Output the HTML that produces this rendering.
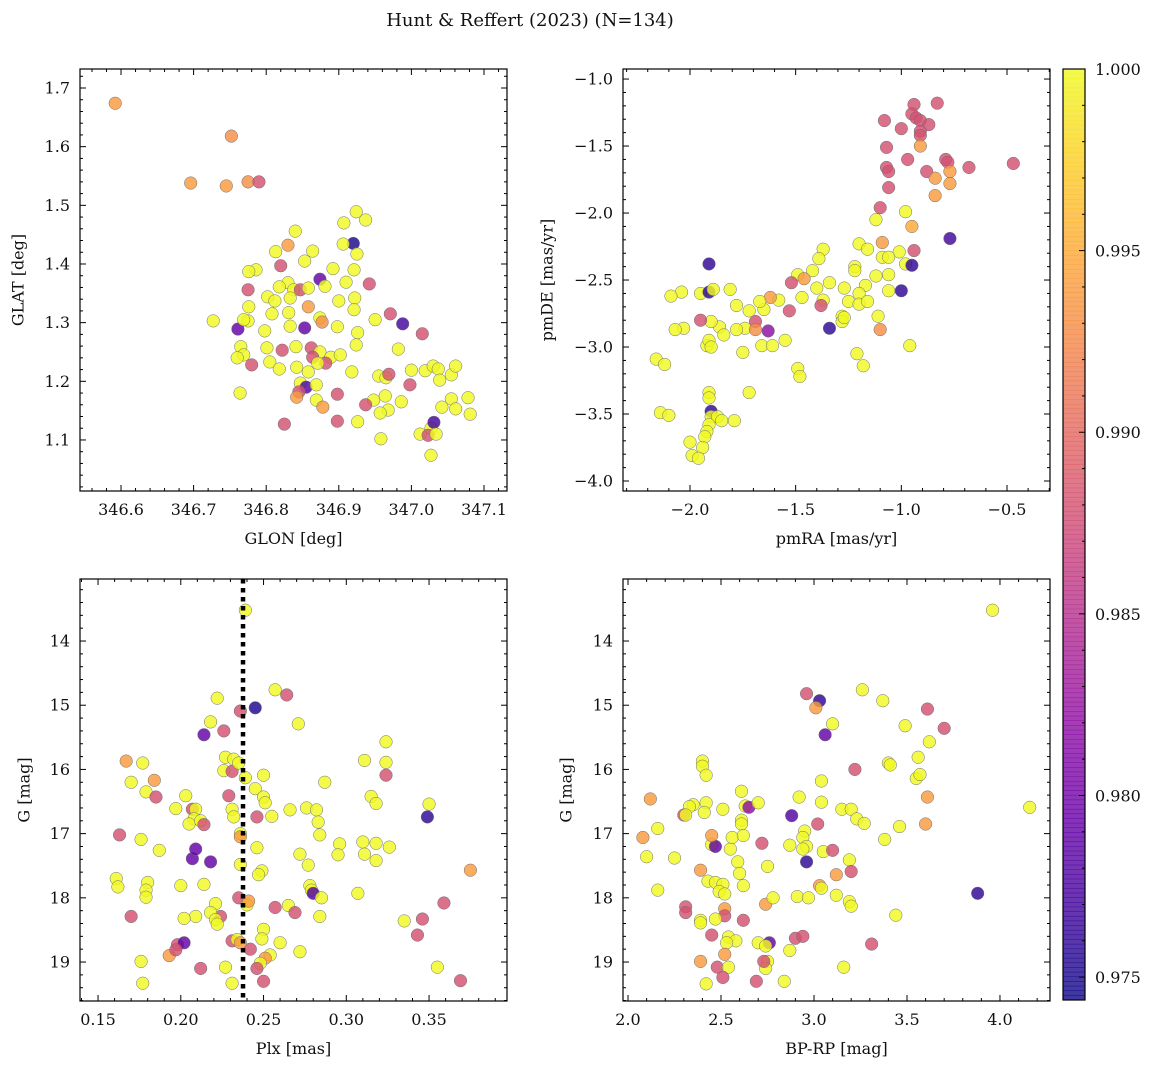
<!DOCTYPE html>
<html><head><meta charset="utf-8"><style>
html,body{margin:0;padding:0;background:#fff;}
svg text{font-family:"DejaVu Serif","Liberation Serif",serif;fill:#111;}
</style></head><body>
<svg id="fig" width="1161" height="1068" xmlns="http://www.w3.org/2000/svg">
<text x="530" y="26" font-size="18" text-anchor="middle">Hunt &amp; Reffert (2023) (N=134)</text>
</svg>
<script>
// ---- Panel 1: GLON / GLAT ----
const p1x=[346.592,346.752,346.696,346.745,346.775,346.790,346.840,346.830,346.920,346.924,346.937,346.907,346.813,346.820,346.786,346.776,346.864,346.892,346.906,346.853,346.874,346.925,346.921,346.910,346.830,346.838,346.818,346.775,346.776,346.802,346.812,346.833,346.847,346.858,346.881,346.942,346.922,346.900,346.921,346.858,346.831,346.808,346.874,346.950,346.898,346.877,346.853,346.833,346.761,346.798,346.775,346.727,346.769,346.971,346.988,347.015,346.926,346.924,346.765,346.801,346.822,346.841,346.862,346.874,346.889,346.902,346.864,346.882,346.871,346.982,346.780,346.805,346.842,346.818,346.769,346.760,346.858,346.918,346.955,346.965,346.969,347.000,347.019,347.030,347.037,347.055,347.061,347.039,346.998,346.847,346.855,346.869,346.845,346.842,346.869,346.878,346.948,346.964,346.986,346.968,346.937,346.898,347.055,347.042,347.061,347.078,347.081,346.926,346.957,346.898,346.958,346.825,347.012,347.027,347.023,347.031,347.034,347.027,346.764];
const p1y=[1.674,1.618,1.538,1.533,1.540,1.540,1.456,1.432,1.435,1.489,1.475,1.470,1.421,1.397,1.390,1.387,1.422,1.392,1.434,1.405,1.374,1.417,1.390,1.369,1.368,1.356,1.361,1.356,1.327,1.344,1.337,1.342,1.356,1.359,1.362,1.366,1.342,1.337,1.322,1.327,1.317,1.315,1.308,1.305,1.293,1.301,1.291,1.294,1.289,1.286,1.303,1.303,1.305,1.315,1.298,1.281,1.283,1.262,1.259,1.257,1.253,1.259,1.257,1.250,1.241,1.245,1.241,1.231,1.231,1.255,1.228,1.233,1.224,1.221,1.245,1.240,1.216,1.216,1.209,1.206,1.212,1.219,1.218,1.226,1.221,1.211,1.226,1.202,1.194,1.197,1.190,1.194,1.182,1.173,1.168,1.156,1.168,1.175,1.165,1.151,1.160,1.178,1.170,1.156,1.153,1.172,1.144,1.131,1.146,1.132,1.102,1.127,1.110,1.120,1.108,1.130,1.110,1.074,1.180];
const p1c=[0.994,0.993,0.994,0.994,0.993,0.988,1,0.994,0.975,1,1,1,1,0.988,1,1,1,1,1,1,0.979,1,1,1,1,1,1,0.988,1,1,1,1,0.988,1,1,0.988,1,1,1,0.994,1,1,1,1,1,0.993,0.979,1,0.979,1,1,1,1,0.988,0.977,0.988,1,1,1,1,0.988,1,0.988,1,1,1,0.988,0.988,1,1,0.988,1,1,1,1,1,1,1,1,1,0.988,1,1,1,1,1,1,1,0.988,1,0.978,1,0.988,0.994,1,0.994,1,1,1,1,0.988,0.988,1,1,1,1,1,1,1,0.988,1,0.988,1,1,0.988,0.977,1,1,1];
// ---- Panel 2: pmRA / pmDE ----
const p2x=[-0.94,-0.95,-0.93,-0.91,-0.83,-1.00,-0.87,-0.91,-0.91,-1.08,-1.07,-0.97,-0.79,-0.78,-1.07,-1.06,-0.47,-0.68,-1.06,-0.88,-0.84,-0.77,-0.77,-0.84,-0.91,-1.10,-0.98,-1.12,-0.95,-1.09,-1.20,-1.16,-1.01,-0.94,-0.77,-1.09,-1.06,-0.98,-0.95,-1.22,-1.22,-1.37,-1.39,-1.42,-1.49,-1.46,-1.34,-1.40,-1.27,-1.17,-1.12,-1.06,-1.20,-1.06,-1.47,-1.37,-1.25,-1.20,-1.16,-1.00,-1.38,-1.58,-1.62,-1.65,-1.72,-1.67,-1.69,-1.74,-1.78,-1.86,-1.84,-1.78,-1.28,-1.28,-1.27,-1.11,-1.34,-1.63,-1.10,-1.21,-1.55,-1.66,-1.61,-1.75,-1.92,-1.91,-1.90,-1.95,-2.04,-2.09,-1.91,-1.91,-1.89,-1.81,-1.90,-1.95,-2.03,-2.07,-2.16,-2.12,-1.91,-1.91,-2.14,-2.10,-1.90,-1.90,-1.87,-1.91,-1.92,-1.85,-1.79,-1.93,-2.00,-1.94,-1.99,-1.96,-1.72,-1.49,-1.48,-1.18,-0.96,-1.69,-1.53,-1.52];
const p2y=[-1.19,-1.26,-1.29,-1.31,-1.18,-1.37,-1.34,-1.39,-1.42,-1.31,-1.51,-1.60,-1.60,-1.62,-1.66,-1.69,-1.63,-1.66,-1.81,-1.69,-1.74,-1.69,-1.78,-1.87,-1.50,-1.96,-1.99,-2.05,-2.10,-2.22,-2.23,-2.27,-2.29,-2.28,-2.19,-2.33,-2.33,-2.38,-2.39,-2.40,-2.43,-2.27,-2.34,-2.43,-2.46,-2.49,-2.52,-2.56,-2.56,-2.54,-2.47,-2.46,-2.60,-2.58,-2.63,-2.65,-2.66,-2.68,-2.66,-2.58,-2.69,-2.65,-2.63,-2.72,-2.73,-2.66,-2.81,-2.86,-2.87,-2.85,-2.91,-2.69,-2.77,-2.81,-2.78,-2.77,-2.86,-2.88,-2.87,-3.05,-2.95,-2.99,-2.99,-3.04,-2.99,-2.95,-3.00,-2.60,-2.59,-2.62,-2.38,-2.59,-2.57,-2.57,-2.81,-2.80,-2.86,-2.87,-3.09,-3.13,-3.34,-3.38,-3.49,-3.51,-3.48,-3.52,-3.52,-3.58,-3.63,-3.55,-3.55,-3.67,-3.71,-3.75,-3.81,-3.83,-3.34,-3.16,-3.22,-3.14,-2.99,-2.87,-2.73,-2.52];
const p2c=[0.988,0.988,0.988,0.988,0.988,0.988,0.988,0.988,0.988,0.988,0.988,0.988,0.988,0.988,0.988,0.988,0.988,0.988,0.988,0.988,0.994,0.994,0.994,0.994,0.994,0.988,1,1,0.995,0.994,1,1,1,0.988,0.977,1,1,1,0.976,1,1,1,1,1,1,0.994,1,1,1,1,1,1,1,1,1,1,1,1,1,0.976,0.988,1,0.994,1,1,1,0.988,1,1,1,1,1,1,1,1,1,0.976,0.982,0.993,1,1,1,1,1,1,1,1,1,1,1,0.976,0.976,1,1,1,0.988,1,1,1,1,1,1,1,1,0.976,1,1,1,1,1,1,1,1,1,1,1,1,1,1,1,1,0.993,0.988,0.988,1,1];
// ---- Panel 3: Plx / G ----
const plxLine=0.2376;
const p3x=[0.239,0.245,0.257,0.264,0.236,0.222,0.218,0.214,0.226,0.271,0.167,0.177,0.170,0.184,0.179,0.185,0.226,0.231,0.227,0.232,0.235,0.239,0.250,0.245,0.229,0.203,0.197,0.207,0.209,0.208,0.205,0.212,0.214,0.231,0.232,0.236,0.236,0.250,0.251,0.246,0.255,0.266,0.276,0.282,0.283,0.287,0.311,0.324,0.324,0.324,0.315,0.318,0.296,0.284,0.295,0.310,0.311,0.318,0.326,0.318,0.272,0.246,0.249,0.247,0.236,0.207,0.218,0.209,0.187,0.163,0.176,0.161,0.162,0.180,0.179,0.179,0.200,0.214,0.221,0.224,0.218,0.209,0.202,0.221,0.222,0.235,0.240,0.241,0.257,0.265,0.269,0.278,0.279,0.280,0.285,0.284,0.250,0.249,0.260,0.242,0.272,0.231,0.234,0.236,0.254,0.251,0.248,0.246,0.227,0.212,0.198,0.193,0.202,0.197,0.176,0.177,0.170,0.231,0.250,0.346,0.343,0.359,0.375,0.355,0.369,0.335,0.350,0.349,0.307,0.277];
const p3y=[13.52,15.04,14.76,14.84,15.09,14.89,15.26,15.46,15.40,15.29,15.87,15.90,16.20,16.17,16.35,16.43,16.02,16.03,15.81,15.84,15.90,16.13,16.09,16.30,16.41,16.41,16.61,16.62,16.62,16.77,16.85,16.80,16.86,16.62,16.74,17.00,17.05,16.43,16.52,16.74,16.73,16.63,16.60,16.63,16.82,16.20,15.86,15.57,15.89,16.09,16.42,16.53,17.16,17.02,17.33,17.13,17.32,17.15,17.21,17.42,17.32,17.22,17.58,17.64,17.48,17.39,17.44,17.24,17.26,17.02,17.09,17.70,17.83,17.76,17.88,17.99,17.81,17.79,18.09,18.29,18.23,18.29,18.32,18.34,18.41,18.00,18.11,18.05,18.15,18.12,18.23,17.81,17.88,17.93,18.00,18.29,18.49,18.64,18.70,18.80,18.84,18.67,18.65,18.70,18.89,18.94,19.02,19.10,19.08,19.10,18.73,18.90,18.70,18.81,18.99,19.33,18.29,19.33,19.30,18.33,18.58,18.08,17.57,19.08,19.29,18.36,16.54,16.74,17.93,17.49];
const p3c=[1,0.975,1,0.988,0.988,1,1,0.979,0.988,1,0.994,1,1,0.994,1,0.988,1,0.988,1,1,1,1,1,1,0.988,1,1,0.988,1,1,1,1,0.988,1,1,1,0.994,1,1,0.988,1,1,1,1,1,1,1,1,1,0.988,1,1,1,1,1,1,1,1,1,1,1,1,1,1,1,0.979,0.979,0.979,1,0.988,1,1,1,1,1,1,1,1,1,0.988,1,1,1,1,1,0.988,1,0.994,0.988,1,0.988,1,1,0.978,1,1,1,1,1,0.988,1,0.988,1,0.994,1,0.994,1,0.988,1,0.988,0.988,0.994,0.979,0.988,1,1,0.988,1,0.988,0.988,0.988,0.988,0.994,1,0.988,1,1,0.976,1,1];
// ---- Panel 4: BP-RP / G ----
const p4x=[3.96,3.26,2.96,3.03,3.01,3.10,3.06,3.37,3.49,3.70,3.61,3.62,3.56,3.40,3.41,3.22,3.55,3.57,3.61,3.60,3.46,3.38,4.16,3.88,3.04,3.04,2.92,3.15,3.20,3.23,3.27,3.02,2.95,2.94,2.96,2.87,2.94,2.88,2.96,3.05,3.10,3.19,3.20,3.12,3.12,3.03,3.04,2.91,2.97,3.19,3.20,3.44,3.31,3.16,2.90,2.94,2.84,2.87,2.75,2.72,2.61,2.61,2.61,2.63,2.65,2.70,2.51,2.42,2.41,2.45,2.55,2.59,2.56,2.60,2.62,2.47,2.45,2.43,2.47,2.51,2.49,2.52,2.52,2.52,2.47,2.39,2.39,2.39,2.40,2.40,2.42,2.35,2.33,2.30,2.31,2.12,2.16,2.08,2.10,2.25,2.16,2.31,2.31,2.45,2.54,2.58,2.53,2.70,2.76,2.74,2.52,2.75,2.74,2.73,2.48,2.54,2.39,2.51,2.42,2.69,2.62,2.62,2.74,2.78];
const p4y=[13.52,14.76,14.82,14.93,15.04,15.29,15.46,14.93,15.32,15.36,15.06,15.57,15.81,15.90,15.93,16.00,16.14,16.08,16.43,16.85,16.89,17.09,16.59,17.93,16.18,16.51,16.43,16.62,16.62,16.77,16.84,16.85,16.96,17.06,17.20,17.18,17.24,16.72,17.44,17.28,17.26,17.41,17.59,17.64,17.96,17.81,17.85,17.98,18.00,18.06,18.13,18.27,18.72,19.08,18.63,18.60,19.30,18.82,17.51,17.15,16.79,16.85,16.34,16.57,16.59,16.52,16.62,16.52,16.67,17.17,17.24,17.44,17.06,17.62,17.81,17.20,17.03,17.74,17.76,17.79,17.90,17.94,18.17,18.28,18.33,18.35,18.39,17.57,15.87,15.95,16.09,16.55,16.58,16.71,16.71,16.46,16.92,17.06,17.36,17.38,17.88,18.14,18.23,18.58,18.61,18.67,18.70,18.70,18.70,18.75,18.88,18.99,19.10,18.99,19.08,19.08,18.99,19.24,19.34,19.30,18.35,17.03,18.10,18.00];
const p4c=[1,1,0.988,0.976,0.994,1,0.979,1,1,0.988,0.988,1,1,1,1,0.988,1,1,0.994,0.994,1,1,1,0.976,1,1,1,1,1,1,1,0.988,1,1,1,1,1,0.978,0.976,1,0.988,1,0.988,0.994,1,0.994,1,1,1,1,1,1,0.988,1,0.988,0.988,1,1,1,0.988,1,1,1,1,0.982,1,1,1,1,1,1,1,1,1,1,0.979,0.994,1,1,1,1,1,0.994,0.988,1,1,1,0.994,1,1,1,1,1,0.988,1,0.994,1,0.994,1,1,1,0.988,0.988,0.988,1,1,1,1,0.979,1,0.994,1,1,0.988,0.988,1,0.994,0.988,1,0.988,0.988,1,0.994,1];

const cmin=0.97437, cmax=1.0;
const stops=[[13,8,135],[65,4,157],[106,0,168],[143,13,164],[177,42,144],[204,71,120],[225,100,98],[242,132,75],[252,166,54],[252,206,37],[240,249,33]];
function plasma(v){let t=Math.max(0,Math.min(1,(v-cmin)/(cmax-cmin)))*10;let i=Math.min(9,Math.floor(t));let f=t-i;const a=stops[i],b=stops[i+1];return `rgb(${Math.round(a[0]+(b[0]-a[0])*f)},${Math.round(a[1]+(b[1]-a[1])*f)},${Math.round(a[2]+(b[2]-a[2])*f)})`;}

const svg=document.getElementById('fig');
const NS='http://www.w3.org/2000/svg';
function mk(tag,attrs,parent){const e=document.createElementNS(NS,tag);for(const k in attrs)e.setAttribute(k,attrs[k]);(parent||svg).appendChild(e);return e;}
function fmt(v,d){let s=v.toFixed(d);return s.replace('-','\u2212');}

const panels=[
 {name:'glon-glat',x0:80,x1:507,y0:69,y1:491,xa:346.5435,xb:347.1317,ya:1.7324,yb:1.013,xt:[346.6,347.1,0.1,0.02,1],yt:[1.1,1.7,0.1,0.02,1],xs:p1x,ys:p1y,cs:p1c,xl:'GLON [deg]',yl:'GLAT [deg]',ylx:18},
 {name:'pmra-pmde',x0:623,x1:1050,y0:69,y1:491,xa:-2.317,xb:-0.2965,ya:-0.925,yb:-4.0746,xt:[-2.0,-0.5,0.5,0.1,1],yt:[-4.0,-1.0,0.5,0.1,1],xs:p2x,ys:p2y,cs:p2c,xl:'pmRA [mas/yr]',yl:'pmDE [mas/yr]',ylx:547},
 {name:'plx-g',x0:80,x1:507,y0:579,y1:1001,xa:0.1391,xb:0.3971,ya:13.034,yb:19.607,xt:[0.15,0.35,0.05,0.01,2],yt:[14,19,1,0.2,0],xs:p3x,ys:p3y,cs:p3c,xl:'Plx [mas]',yl:'G [mag]',ylx:24,vline:plxLine},
 {name:'bprp-g',x0:623,x1:1050,y0:579,y1:1001,xa:1.973,xb:4.269,ya:13.034,yb:19.607,xt:[2.0,4.0,0.5,0.1,1],yt:[14,19,1,0.2,0],xs:p4x,ys:p4y,cs:p4c,xl:'BP-RP [mag]',yl:'G [mag]',ylx:566}
];

panels.forEach(P=>{
 const g=mk('g',{});
 
 
 const X=v=>P.x0+(v-P.xa)/(P.xb-P.xa)*(P.x1-P.x0);
 const Y=v=>P.y0+(v-P.ya)/(P.yb-P.ya)*(P.y1-P.y0);
 // points
 const pts=mk('g',{},g);
 
 
 for(let i=0;i<P.xs.length;i++){
  const c=mk('circle',{cx:X(P.xs[i]),cy:Y(P.ys[i]),r:6.3,fill:plasma(P.cs[i]),'fill-opacity':0.82,stroke:'#6e6e6e','stroke-width':0.5},pts);
  
  
 }
 if(P.vline!==undefined){
  const l=mk('line',{x1:X(P.vline),x2:X(P.vline),y1:P.y0,y2:P.y1,stroke:'#000','stroke-width':4.5,'stroke-dasharray':'4.5 4.5'},g);
  
  
 }
 // frame
 const fr=mk('rect',{x:P.x0,y:P.y0,width:P.x1-P.x0,height:P.y1-P.y0,fill:'none',stroke:'#000','stroke-width':1.2},g);
 
 
 // ticks
 const [xs,xe,xst,xm,xd]=P.xt, [ys,ye,yst,ym,yd]=P.yt;
 const xlo=Math.min(P.xa,P.xb),xhi=Math.max(P.xa,P.xb),ylo=Math.min(P.ya,P.yb),yhi=Math.max(P.ya,P.yb);
 for(let k=Math.ceil(xlo/xm-1e-6);k*xm<=xhi+1e-9;k++){const v=k*xm,px=X(v);const major=Math.abs(v/xst-Math.round(v/xst))<1e-4;const L=major?6:3;
  mk('line',{x1:px,x2:px,y1:P.y1,y2:P.y1-L,stroke:'#000','stroke-width':1},g);mk('line',{x1:px,x2:px,y1:P.y0,y2:P.y0+L,stroke:'#000','stroke-width':1},g);}
 for(let k=Math.ceil(ylo/ym-1e-6);k*ym<=yhi+1e-9;k++){const v=k*ym,py=Y(v);const major=Math.abs(v/yst-Math.round(v/yst))<1e-4;const L=major?6:3;
  mk('line',{x1:P.x0,x2:P.x0+L,y1:py,y2:py,stroke:'#000','stroke-width':1},g);mk('line',{x1:P.x1,x2:P.x1-L,y1:py,y2:py,stroke:'#000','stroke-width':1},g);}
 const nx=Math.round((xe-xs)/xst);
 for(let i=0;i<=nx;i++){const v=xs+i*xst;const t=mk('text',{x:X(v),y:P.y1+24,'font-size':16,'text-anchor':'middle'},g);t.textContent=fmt(v,xd);
  }
 const ny=Math.round((ye-ys)/yst);
 for(let i=0;i<=ny;i++){const v=ys+i*yst;const t=mk('text',{x:P.x0-10,y:Y(v)+5.5,'font-size':16,'text-anchor':'end'},g);t.textContent=fmt(v,yd);
  }
 const xl=mk('text',{x:(P.x0+P.x1)/2,y:P.y1+53,'font-size':16,'text-anchor':'middle'},g);xl.textContent=P.xl;
 
 const cy=(P.y0+P.y1)/2;
 const yl=mk('text',{x:P.ylx,y:cy,'font-size':16,'text-anchor':'middle',transform:`rotate(-90 ${P.ylx} ${cy})`,dy:'0.35em'},g);yl.textContent=P.yl;
 
});

// colorbar
const cbTicks=[0.975,0.980,0.985,0.990,0.995,1.000];
const cb=mk('g',{});


const cx0=1063,cx1=1085,cy0=69,cy1=1000;
const CY=v=>cy1-(v-cmin)/(cmax-cmin)*(cy1-cy0);
for(let i=0;i<200;i++){const v0=cmin+(cmax-cmin)*i/200;mk('rect',{x:cx0,y:CY(v0+(cmax-cmin)/200)-0.3,width:cx1-cx0,height:(cy1-cy0)/200+0.6,fill:plasma(v0+(cmax-cmin)/400),'fill-opacity':0.8},cb);}
mk('rect',{x:cx0,y:cy0,width:cx1-cx0,height:cy1-cy0,fill:'none',stroke:'#000','stroke-width':1.2},cb);
for(let k=975;k<=1000;k++){const v=k/1000,py=CY(v);const major=k%5===0;mk('line',{x1:cx1,x2:cx1-(major?6:3),y1:py,y2:py,stroke:'#000','stroke-width':1},cb);}
cbTicks.forEach(v=>{const t=mk('text',{x:1095,y:CY(v)+6,'font-size':16},cb);t.textContent=v.toFixed(3);
 });
</script>
</body></html>
